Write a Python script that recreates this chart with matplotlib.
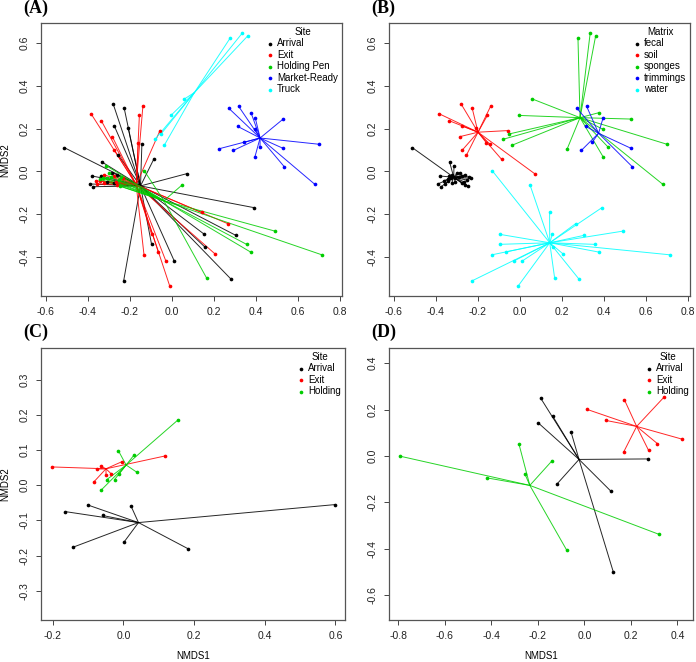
import numpy as np
import matplotlib.pyplot as plt

plt.rcParams['font.family'] = ['Liberation Sans', 'DejaVu Sans']

# ---- samples shared by panels A and B (NMDS1, NMDS2, site), split by matrix
fecal_x = [-0.511, -0.334, -0.313, -0.377, -0.390, -0.374, -0.355, -0.339, -0.326, -0.320,
           -0.307, -0.291, -0.275, -0.259, -0.240, -0.231, -0.251, -0.267, -0.275, -0.259,
           -0.248, -0.307, -0.323, -0.342, -0.362, -0.299, -0.283, -0.335]
fecal_y = [0.111, 0.045, 0.027, -0.022, -0.059, -0.072, -0.059, -0.044, -0.033, -0.017,
           -0.033, -0.028, -0.022, -0.017, -0.025, -0.033, -0.041, -0.048, -0.056, -0.064,
           -0.069, -0.048, -0.053, -0.037, -0.044, -0.009, -0.006, -0.022]
fecal_site = ['Arrival', 'Arrival', 'Holding Pen', 'Arrival', 'Arrival', 'Arrival', 'Exit',
              'Exit', 'Holding Pen', 'Exit', 'Holding Pen', 'Holding Pen', 'Exit', 'Arrival',
              'Holding Pen', 'Exit', 'Holding Pen', 'Exit', 'Arrival', 'Exit', 'Holding Pen',
              'Arrival', 'Exit', 'Holding Pen', 'Exit', 'Holding Pen', 'Arrival', 'Arrival']

soil_x = [-0.384, -0.335, -0.278, -0.226, -0.137, -0.154, -0.273, -0.207, -0.056, -0.283,
          -0.159, -0.142, -0.273, -0.254, -0.086, 0.071]
soil_y = [0.270, 0.237, 0.314, 0.295, 0.308, 0.262, 0.212, 0.202, 0.191, 0.163,
          0.134, 0.127, 0.100, 0.075, 0.056, -0.011]
soil_site = ['Exit', 'Exit', 'Arrival', 'Arrival', 'Exit', 'Exit', 'Arrival', 'Arrival', 'Exit',
             'Exit', 'Exit', 'Arrival', 'Exit', 'Arrival', 'Arrival', 'Arrival']

sponges_x = [0.277, 0.335, 0.361, 0.060, -0.004, -0.051, -0.080, -0.035,
             0.226, 0.377, 0.396, 0.530, 0.700, 0.420, 0.396, 0.681]
sponges_y = [0.623, 0.647, 0.634, 0.339, 0.262, 0.175, 0.150, 0.123,
             0.106, 0.275, 0.197, 0.245, 0.127, 0.114, 0.069, -0.061]
sponges_site = ['Truck'] * 8 + ['Market-Ready'] * 8

trimmings_x = [0.272, 0.318, 0.397, 0.313, 0.345, 0.293, 0.527, 0.535]
trimmings_y = [0.295, 0.305, 0.252, 0.211, 0.136, 0.098, 0.109, 0.022]
trimmings_site = ['Market-Ready'] * 8

water_x = [-0.131, 0.049, 0.142, 0.391, 0.266, 0.491, 0.305, 0.155, -0.096, -0.096, 0.356,
           0.158, -0.064, -0.132, 0.205, 0.375, 0.714, -0.028, 0.012, -0.229, -0.009, 0.166,
           0.282]
water_y = [0.003, -0.064, -0.192, -0.170, -0.245, -0.280, -0.300, -0.295, -0.295, -0.342,
           -0.342, -0.355, -0.377, -0.391, -0.386, -0.378, -0.391, -0.420, -0.420, -0.514,
           -0.539, -0.500, -0.505]
water_site = ['Holding Pen', 'Holding Pen', 'Exit', 'Arrival', 'Exit', 'Holding Pen', 'Arrival',
              'Arrival', 'Exit', 'Arrival', 'Holding Pen', 'Arrival', 'Exit', 'Exit', 'Exit',
              'Holding Pen', 'Holding Pen', 'Exit', 'Arrival', 'Arrival', 'Exit', 'Holding Pen',
              'Arrival']

sites_ab = ['Arrival', 'Exit', 'Holding Pen', 'Market-Ready', 'Truck']
matrices = ['fecal', 'soil', 'sponges', 'trimmings', 'water']

# ---- panel C
c_x = [-0.164, -0.101, -0.059, 0.022, 0.599, -0.142, 0.003, 0.184,
       -0.202, -0.075, -0.063, -0.004, 0.117, -0.049, -0.034, -0.083,
       0.155, -0.014, 0.031, 0.038, -0.012, -0.025, -0.047, -0.063]
c_y = [-0.075, -0.056, -0.086, -0.060, -0.055, -0.176, -0.160, -0.181,
       0.052, 0.046, 0.054, 0.067, 0.083, 0.030, 0.032, 0.010,
       0.186, 0.098, 0.087, 0.037, 0.033, 0.016, 0.016, -0.014]
c_site = ['Arrival'] * 8 + ['Exit'] * 8 + ['Holding'] * 8

# ---- panel D
d_x = [-0.188, -0.136, -0.198, -0.057, 0.273, -0.116, 0.113, 0.125,
       0.010, 0.092, 0.172, 0.344, 0.421, 0.314, 0.276, 0.169,
       -0.793, -0.417, -0.281, -0.256, -0.140, -0.076, 0.321]
d_y = [0.249, 0.171, 0.142, 0.102, -0.013, -0.119, -0.151, -0.502,
       0.201, 0.153, 0.242, 0.255, 0.072, 0.053, 0.024, 0.017,
       -0.001, -0.095, 0.050, -0.077, -0.022, -0.406, -0.338]
d_site = ['Arrival'] * 8 + ['Exit'] * 8 + ['Holding'] * 7

sites_cd = ['Arrival', 'Exit', 'Holding']

palette = ['black', '#FF0000', '#00CD00', '#0000FF', '#00FFFF']

ab_x = fecal_x + soil_x + sponges_x + trimmings_x + water_x
ab_y = fecal_y + soil_y + sponges_y + trimmings_y + water_y
ab_site = fecal_site + soil_site + sponges_site + trimmings_site + water_site
ab_matrix = (['fecal'] * len(fecal_x) + ['soil'] * len(soil_x) + ['sponges'] * len(sponges_x)
             + ['trimmings'] * len(trimmings_x) + ['water'] * len(water_x))


def spider(ax, x, y, groups, levels, title):
    # spokes from each group's centroid out to its samples, then the points
    x, y, groups = np.asarray(x), np.asarray(y), np.asarray(groups)
    for lev, col in zip(levels, palette):
        m = groups == lev
        cx, cy = x[m].mean(), y[m].mean()
        for xi, yi in zip(x[m], y[m]):
            ax.plot([cx, xi], [cy, yi], color=col, lw=0.7, alpha=0.85, zorder=2)
    for lev, col in zip(levels, palette):
        m = groups == lev
        ax.scatter(x[m], y[m], s=7, color=col, linewidths=0, zorder=3, label=lev)
    ax.legend(loc='upper right', frameon=False, fontsize=7, title=title, title_fontsize=7,
              handlelength=0.5, handletextpad=0.5, labelspacing=0.15, borderaxespad=0.1,
              borderpad=0.3, markerscale=1.0)


def style(ax, xlim, ylim, xticks, yticks):
    ax.set_xlim(xlim)
    ax.set_ylim(ylim)
    ax.set_xticks(xticks)
    ax.set_yticks(yticks)
    ax.set_xticklabels([f'{v:.1f}' for v in np.round(xticks, 2) + 0.0])
    ax.set_yticklabels([f'{v:.1f}' for v in np.round(yticks, 2) + 0.0],
                       rotation=90, va='center')
    ax.tick_params(direction='out', length=3.5, width=0.7, pad=4.5, labelsize=7.5,
                   color='#444444', labelcolor='#222222')
    for s in ax.spines.values():
        s.set_color('#555555')
        s.set_linewidth(0.9)


fig = plt.figure(figsize=(6.96, 6.62), dpi=100)
W, H = 696, 662


def add_axes(l, t, r, b):
    return fig.add_axes([l / W, 1 - b / H, (r - l) / W, (b - t) / H])


ax_a = add_axes(41, 23, 342, 296)
ax_b = add_axes(389, 23, 690, 296)
ax_c = add_axes(41, 348, 345, 620)
ax_d = add_axes(389, 348, 693, 620)

spider(ax_a, ab_x, ab_y, ab_site, sites_ab, 'Site')
spider(ax_b, ab_x, ab_y, ab_matrix, matrices, 'Matrix')
spider(ax_c, c_x, c_y, c_site, sites_cd, 'Site')
spider(ax_d, d_x, d_y, d_site, sites_cd, 'Site')

ab_xt = np.arange(-0.6, 0.81, 0.2)
ab_yt = np.arange(-0.4, 0.61, 0.2)
style(ax_a, (-0.622, 0.81), (-0.584, 0.695), ab_xt, ab_yt)
style(ax_b, (-0.622, 0.81), (-0.584, 0.695), ab_xt, ab_yt)
style(ax_c, (-0.233, 0.627), (-0.383, 0.39), np.arange(-0.2, 0.61, 0.2), np.arange(-0.3, 0.31, 0.1))
style(ax_d, (-0.840, 0.467), (-0.707, 0.465), np.arange(-0.8, 0.41, 0.2), np.arange(-0.6, 0.41, 0.2))

for lab, px, py in [('(A)', 23, 8), ('(B)', 371, 8), ('(C)', 23, 332), ('(D)', 371, 332)]:
    fig.text(px / W, 1 - py / H, lab, fontsize=13, fontweight='bold',
             family='Liberation Serif', ha='left', va='center')

fig.text(5 / W, 1 - 160 / H, 'NMDS2', rotation=90, fontsize=7, ha='center', va='center')
fig.text(5 / W, 1 - 484 / H, 'NMDS2', rotation=90, fontsize=7, ha='center', va='center')
fig.text(193 / W, 1 - 656 / H, 'NMDS1', fontsize=7, ha='center', va='center')
fig.text(541 / W, 1 - 656 / H, 'NMDS1', fontsize=7, ha='center', va='center')

fig.savefig('out.png', dpi=100)
